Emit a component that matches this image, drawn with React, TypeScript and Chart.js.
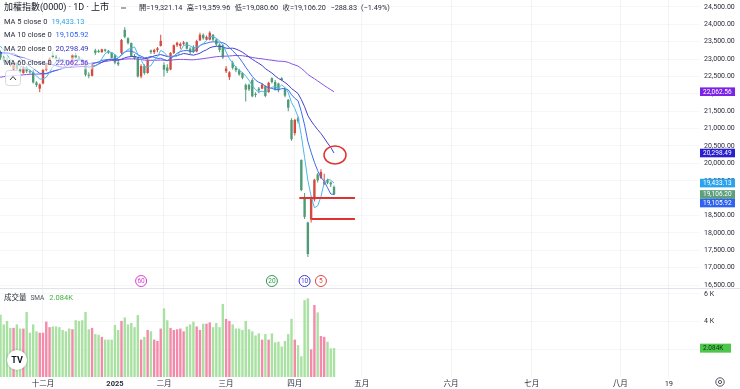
import React, { useEffect, useRef } from 'react';
import { Chart, registerables } from 'chart.js';

Chart.register(...registerables);

const FONT = "Roboto, 'Noto Sans CJK TC', 'Noto Sans', sans-serif";

// ---------- data (daily bars, 2024-11-12 … 2025-04-21) ----------
const opens = [
  23350, 23200, 23050, 22950, 22920, 22700, 22880, 22720, 22600, 22760,
  22650, 22620, 22330, 22150, 22300, 22690, 22850, 23100, 23060, 23010,
  22940, 22910, 22900, 22860, 23120, 23040, 22980, 22900, 22550, 22520,
  23250, 23240, 23200, 23280, 23240, 23190, 23110, 22900, 23180, 23840,
  23600, 23460, 23080, 23020, 22500, 22800, 22600, 23250, 23200, 23260,
  23380, 22830, 22760, 22700, 23180, 23400, 23380, 23440, 23480, 23300,
  23350, 23220, 23540, 23700, 23560, 23560, 23700, 23560, 23420, 23400,
  22650, 22480, 22900, 22750, 22680, 22600, 22260, 22260, 22400, 22000,
  22150, 22150, 22220, 22050, 22450, 22340, 22300, 22450, 22150, 21830,
  21250, 20870, 21300, 20100, 19030, 18300, 18380, 18960, 19680, 19580,
  19400, 19520, 19450, 19321.14,
];
const highs = [
  23400, 23250, 23100, 23050, 22960, 22900, 22900, 22760, 22800, 22800,
  22700, 22680, 22360, 22300, 22720, 22880, 23050, 23220, 23120, 23050,
  23000, 22960, 22950, 23150, 23180, 23080, 23020, 22920, 22620, 22920,
  23300, 23280, 23300, 23300, 23260, 23200, 23150, 23000, 23580, 23920,
  23630, 23480, 23150, 23060, 22850, 22850, 23000, 23280, 23300, 23350,
  23700, 22900, 22850, 23200, 23420, 23500, 23480, 23520, 23500, 23340,
  23400, 23560, 23760, 23740, 23680, 23800, 23720, 23600, 23460, 23420,
  22800, 22650, 22950, 22800, 22720, 22620, 22300, 22300, 22450, 22050,
  22200, 22300, 22250, 22350, 22480, 22400, 22320, 22480, 22180, 21850,
  21300, 21280, 21350, 20110, 19150, 18320, 19050, 19560, 19720, 19830,
  19700, 19560, 19480, 19359.96,
];
const lows = [
  23150, 22980, 22900, 22880, 22780, 22680, 22700, 22600, 22580, 22600,
  22580, 22300, 22200, 22050, 22280, 22650, 22820, 23020, 22980, 22900,
  22880, 22850, 22820, 22840, 23000, 22950, 22850, 22500, 22450, 22500,
  23120, 23180, 23180, 23200, 23150, 23020, 22850, 22800, 23150, 23600,
  23420, 23060, 22980, 22470, 22450, 22550, 22580, 23150, 23150, 23200,
  23360, 22500, 22600, 22680, 23150, 23350, 23300, 23400, 23280, 23150,
  23180, 23200, 23520, 23560, 23540, 23540, 23520, 23380, 23200, 23000,
  22600, 22400, 22700, 22620, 22520, 22420, 21780, 22080, 21900, 21900,
  22020, 22130, 21900, 22030, 22300, 22100, 22050, 22380, 21900, 21500,
  20650, 20800, 21150, 19200, 18400, 17306, 18300, 18900, 19450, 19550,
  19380, 19400, 19320, 19080.6,
];
const closes = [
  23200, 23050, 22950, 22920, 22820, 22880, 22720, 22640, 22760, 22650,
  22620, 22330, 22250, 22270, 22690, 22850, 23020, 23060, 23010, 22940,
  22910, 22880, 22860, 23120, 23040, 22980, 22900, 22550, 22520, 22880,
  23180, 23200, 23280, 23240, 23190, 23035, 22900, 22850, 23550, 23640,
  23460, 23080, 23020, 22500, 22800, 22600, 22960, 23200, 23260, 23310,
  23525, 22694, 22660, 23180, 23400, 23470, 23440, 23480, 23300, 23200,
  23220, 23520, 23700, 23600, 23640, 23760, 23560, 23420, 23260, 23050,
  22730, 22620, 22750, 22680, 22560, 22460, 22120, 22130, 21930, 21968,
  22097, 22270, 21940, 22320, 22340, 22130, 22100, 22400, 21950, 21602,
  20695, 21250, 21211.65, 19232.35, 18459.95, 17391.76, 19000.16, 19528.77, 19512.86, 19755.21,
  19468.43, 19440.78, 19395.03, 19106.2,
];
// closes before the visible window (needed by the moving averages)
const priorCloses = [
  21600, 21900, 22250, 22300, 22300, 22230, 22420, 22110, 22150, 22180, 22260, 22000, 22270,
  22280, 22090, 21090, 21320, 21440, 21150, 21420, 21400, 21850, 21760, 21630, 21840, 21950,
  21980, 22080, 22240, 22420, 22630, 22570, 22230,
  22290, 22160, 22570, 22560, 22640, 22900, 23030, 23060, 22840, 23140, 23490, 23450, 23350,
  23250, 23060, 23350, 23220, 23030, 22960,
  22820, 22780, 22950, 23220, 23520, 23550, 23530,
];
// volume in thousands
const volumesK = [
  4.2, 4.5, 3.8, 4.05, 3.55, 3.55, 3.8, 3.5, 3.5, 4.7,
  3.2, 3.8, 3.3, 3.2, 3.2, 4.0, 3.6, 3.65, 3.65, 3.6,
  3.4, 3.3, 3.5, 3.45, 4.1, 4.05, 4.1, 4.7, 3.45, 3.55,
  3.1, 3.05, 2.9, 2.7, 2.7, 2.7, 3.75, 3.4, 4.05, 4.3,
  3.8, 3.9, 3.6, 4.48, 2.7, 2.9, 3.4, 3.3, 2.7, 2.6,
  3.5, 4.96, 4.1, 3.55, 3.4, 3.45, 3.5, 3.3, 3.65, 3.8,
  4.0, 3.65, 3.4, 3.85, 3.85, 3.95, 3.6, 3.9, 3.6, 5.27,
  4.2, 4.05, 3.8, 3.5, 3.5, 3.4, 4.05, 3.45, 3.3, 3.0,
  3.15, 2.7, 3.1, 2.7, 3.15, 2.5, 2.55, 2.2, 2.6, 3.1,
  4.2, 2.7, 2.3, 1.5, 5.55, 5.68, 2.0, 5.2, 4.67, 2.96,
  2.9, 2.55, 2.07, 2.084,
];

const maPeriods = [5, 10, 20, 60];
const maNames = ['MA 5 close 0', 'MA 10 close 0', 'MA 20 close 0', 'MA 60 close 0'];
const maLastValues = [19433.13, 19105.92, 20298.49, 22062.56];
const maLineColors = ['#4cb6ec', '#3a6cf0', '#4340d0', '#8650e4'];
const maTextColors = ['#2aa2e6', '#2d5ff0', '#3434c4', '#7435e2'];
const maBadgeColors = ['#2aa3ee', '#2e62ef', '#2a1fd0', '#7b24e8'];
const markerColors = ['#e0453f', '#3a3ad2', '#2f9a4f', '#d93fd2'];

const priceTicks = [16500, 17000, 17500, 18000, 18500, 19000, 19500, 20000, 20500, 21000,
  21500, 22000, 22500, 23000, 23500, 24000, 24500];
const volumeTicks = [2, 4, 6];
const xTickIdx = [14, 36, 51, 70, 91, 111.5, 138.8, 163.5, 190.5, 205.4];
const xTickLabels = ['十二月', '2025', '二月', '三月', '四月', '五月', '六月', '七月', '八月', '19'];

const titleText = '加權指數(0000) · 1D · 上市';
const ohlcNames = ['開', '高', '低', '收'];
const volumeTitle = '成交量';
const volumeSmaLabel = 'SMA';
const volumeLastK = 2.084;

// drawn annotations (price levels, circle)
const levelValues = [19000, 18400];
const levelFromIdx = [92.4, 96.2];
const levelToIdx = [109.4, 109.4];
const circleIdx = 103.3;
const circleValue = 20240;

// ---------- scale extents ----------
const priceMin = 16414;
const priceMax = 24701;
const volMax = 6.43;
const xMin = 0.85;
const xMax = 214.92;

const UP = '#d44a40';
const DOWN = '#4e9b75';
const VOL_UP = '#f38aaa';
const VOL_DOWN = '#a8e1a1';
const TXT = '#2a2e39';

const fmt2 = (v: number) =>
  v.toLocaleString('en-US', { minimumFractionDigits: 2, maximumFractionDigits: 2 });

function movingAverage(period: number) {
  const all = priorCloses.concat(closes);
  const off = priorCloses.length;
  return closes.map((_, i) => {
    let s = 0;
    for (let k = 0; k < period; k++) s += all[off + i - k];
    return { x: i, y: s / period };
  });
}

function text(ctx: CanvasRenderingContext2D, s: string, x: number, y: number, color: string,
  size: number, weight = 'normal', align: CanvasTextAlign = 'left') {
  ctx.font = `${weight} ${size}px ${FONT}`;
  ctx.fillStyle = color;
  ctx.textAlign = align;
  ctx.textBaseline = 'middle';
  ctx.fillText(s, x, y);
  return ctx.measureText(s).width;
}

const overlayPlugin = {
  id: 'tvOverlay',
  afterDatasetsDraw(chart: any) {
    const { ctx, scales: { x, y } } = chart;
    ctx.save();
    ctx.beginPath();
    ctx.rect(x.left, y.top, x.right - x.left, y.bottom - y.top);
    ctx.clip();
    ctx.strokeStyle = '#e0322e';
    ctx.lineWidth = 2;
    levelValues.forEach((lv, i) => {
      const py = Math.round(y.getPixelForValue(lv));
      ctx.beginPath();
      ctx.moveTo(x.getPixelForValue(levelFromIdx[i]), py);
      ctx.lineTo(x.getPixelForValue(levelToIdx[i]), py);
      ctx.stroke();
    });
    ctx.lineWidth = 1.5;
    ctx.beginPath();
    ctx.ellipse(x.getPixelForValue(circleIdx), y.getPixelForValue(circleValue), 11, 9, 0, 0, Math.PI * 2);
    ctx.stroke();
    ctx.restore();
  },
  afterDraw(chart: any) {
    const { ctx, scales: { x, y, yv } } = chart;
    const W = chart.width;
    const last = closes.length - 1;
    ctx.save();

    // pane separator
    ctx.strokeStyle = '#e0e3eb';
    ctx.lineWidth = 1;
    const sy = Math.round(y.bottom) + 0.5;
    ctx.beginPath();
    ctx.moveTo(0, sy);
    ctx.lineTo(W, sy);
    ctx.stroke();

    // MA window markers
    maPeriods.forEach((p, i) => {
      const cx = x.getPixelForValue(last - (p - 1));
      const cy = y.bottom - 7;
      ctx.beginPath();
      ctx.arc(cx, cy, 5.5, 0, Math.PI * 2);
      ctx.fillStyle = '#fff';
      ctx.fill();
      ctx.strokeStyle = markerColors[i];
      ctx.lineWidth = 1;
      ctx.stroke();
      text(ctx, String(p), cx, cy + 0.5, markerColors[i], 6.5, 'normal', 'center');
    });

    // price badges
    const badges = [
      ...maLastValues.map((v, i) => ({ v, label: fmt2(v), bg: maBadgeColors[i] })),
      { v: closes[last], label: fmt2(closes[last]), bg: closes[last] >= opens[last] ? '#d9534a' : '#5e9f7d' },
    ].sort((a, b) => b.v - a.v);
    const BH = 8.6;
    let prevY = -Infinity;
    badges.forEach((b) => {
      let cy = y.getPixelForValue(b.v);
      if (cy < prevY + BH) cy = prevY + BH;
      prevY = cy;
      ctx.fillStyle = b.bg;
      ctx.fillRect(x.right, cy - BH / 2, 35, BH);
      text(ctx, b.label, x.right + 3, cy + 0.3, '#ffffff', 6.5);
    });

    // volume badge
    const vy = yv.getPixelForValue(volumeLastK);
    ctx.fillStyle = '#4cc74c';
    ctx.fillRect(x.right, vy - 4.5, 31, 9);
    text(ctx, `${volumeLastK.toFixed(3)}K`, x.right + 3, vy + 0.3, '#10300f', 6.5);

    // title row
    text(ctx, titleText, 4, 8, '#131722', 9);
    ctx.strokeStyle = '#8a8e99';
    ctx.lineWidth = 1.5;
    ctx.beginPath();
    ctx.moveTo(121, 8);
    ctx.lineTo(126, 8);
    ctx.stroke();
    const vals = [opens[last], highs[last], lows[last], closes[last]];
    let tx = 139;
    ohlcNames.forEach((n, i) => {
      tx += text(ctx, `${n}=${fmt2(vals[i])}`, tx, 8, TXT, 7.3) + 4.5;
    });
    const chg = closes[last] - closes[last - 1];
    const pct = (chg / closes[last - 1]) * 100;
    const sign = chg < 0 ? '−' : '+';
    tx += text(ctx, `${sign}${fmt2(Math.abs(chg))}`, tx, 8, TXT, 7.3) + 4;
    text(ctx, `(${sign}${Math.abs(pct).toFixed(2)}%)`, tx, 8, TXT, 7.3);

    // MA legend rows
    maNames.forEach((n, i) => {
      const ry = 21.7 + i * 13.9;
      ctx.font = `normal 7.5px ${FONT}`;
      const w1 = ctx.measureText(n).width;
      const w2 = ctx.measureText(fmt2(maLastValues[i])).width;
      ctx.fillStyle = 'rgba(255,255,255,0.6)';
      ctx.fillRect(2, ry - 6, w1 + w2 + 10, 12);
      text(ctx, n, 4, ry, TXT, 7.5);
      text(ctx, fmt2(maLastValues[i]), 4 + w1 + 4, ry, maTextColors[i], 7.5);
    });

    // collapse button
    ctx.fillStyle = 'rgba(255,255,255,0.8)';
    ctx.strokeStyle = '#d6d8de';
    ctx.lineWidth = 1;
    ctx.beginPath();
    ctx.roundRect(5.5, 70.5, 15, 15, 3);
    ctx.fill();
    ctx.stroke();
    ctx.strokeStyle = '#333';
    ctx.beginPath();
    ctx.moveTo(10, 80);
    ctx.lineTo(13, 76.5);
    ctx.lineTo(16, 80);
    ctx.stroke();

    // volume legend
    let vx = 4;
    vx += text(ctx, volumeTitle, vx, 298, TXT, 7.5) + 4;
    vx += text(ctx, volumeSmaLabel, vx, 298, '#50535e', 6.5) + 5;
    text(ctx, `${volumeLastK.toFixed(3)}K`, vx, 298, '#43b043', 7.5);

    // logo
    ctx.save();
    ctx.shadowColor = 'rgba(0,0,0,0.25)';
    ctx.shadowBlur = 3;
    ctx.beginPath();
    ctx.arc(17, 360, 10, 0, Math.PI * 2);
    ctx.fillStyle = '#fff';
    ctx.fill();
    ctx.restore();
    text(ctx, 'TV', 17, 360.5, '#131722', 9, 'bold', 'center');

    // settings icon
    ctx.strokeStyle = '#50535e';
    ctx.lineWidth = 1;
    ctx.beginPath();
    ctx.arc(720, 382, 4.2, 0, Math.PI * 2);
    ctx.stroke();
    ctx.beginPath();
    ctx.arc(720, 382, 1.6, 0, Math.PI * 2);
    ctx.stroke();

    ctx.restore();
  },
};

export default function App() {
  const ref = useRef<HTMLCanvasElement>(null);

  useEffect(() => {
    const canvas = ref.current;
    if (!canvas) return;
    const isUp = closes.map((c, i) => c >= opens[i]);
    const candleColors = isUp.map((u) => (u ? UP : DOWN));
    const volColors = isUp.map((u) => (u ? VOL_UP : VOL_DOWN));

    const wickData = lows.map((l, i) => ({ x: i, y: [l, highs[i]] }));
    const bodyData = opens.map((o, i) => ({ x: i, y: [Math.min(o, closes[i]), Math.max(o, closes[i])] }));
    const volData = volumesK.map((v, i) => ({ x: i, y: v }));

    const maDatasets = maPeriods.map((p, i) => ({
      type: 'line' as const,
      label: maNames[i],
      data: movingAverage(p),
      yAxisID: 'y',
      xAxisID: 'x',
      borderColor: maLineColors[i],
      borderWidth: 1,
      pointRadius: 0,
      tension: 0,
      order: 0,
    }));

    const chart = new Chart(canvas, {
      type: 'bar',
      data: {
        datasets: [
          ...maDatasets,
          {
            type: 'bar', label: 'body', data: bodyData as any, yAxisID: 'y', xAxisID: 'x',
            backgroundColor: candleColors, barThickness: 2.4, grouped: false, minBarLength: 1,
            inflateAmount: 0, order: 2,
          },
          {
            type: 'bar', label: 'wick', data: wickData as any, yAxisID: 'y', xAxisID: 'x',
            backgroundColor: candleColors, barThickness: 1, grouped: false, inflateAmount: 0, order: 3,
          },
          {
            type: 'bar', label: 'volume', data: volData as any, yAxisID: 'yv', xAxisID: 'x',
            backgroundColor: volColors, barThickness: 2.4, grouped: false, inflateAmount: 0, order: 5,
          },
        ] as any,
      },
      options: {
        responsive: false,
        devicePixelRatio: 1,
        animation: false,
        layout: { padding: 0 },
        plugins: { legend: { display: false }, tooltip: { enabled: false } },
        scales: {
          x: {
            type: 'linear', min: xMin, max: xMax, bounds: 'data', offset: false,
            grid: { color: 'rgba(42,46,57,0.05)', drawTicks: false, offset: false },
            border: { display: false },
            afterBuildTicks: (s: any) => { s.ticks = xTickIdx.map((v) => ({ value: v })); },
            afterFit: (s: any) => { s.height = 12; s.paddingLeft = 0; s.paddingRight = 0; },
            ticks: {
              autoSkip: false, maxRotation: 0, padding: 3, color: TXT,
              font: (c: any) => ({ family: FONT, size: 7.5, weight: xTickLabels[c.index] === '2025' ? 'bold' : 'normal' }),
              callback: (_v: any, i: number) => xTickLabels[i],
            },
          },
          y: {
            type: 'linear', position: 'right', stack: 'panes', stackWeight: 288,
            min: priceMin, max: priceMax, bounds: 'data',
            grid: { color: 'rgba(42,46,57,0.04)', drawTicks: false },
            border: { display: false },
            afterBuildTicks: (s: any) => { s.ticks = priceTicks.map((v) => ({ value: v })); },
            afterFit: (s: any) => { s.width = 40; s.paddingTop = 0; s.paddingBottom = 0; },
            ticks: {
              autoSkip: false, padding: 4, color: TXT, font: { family: FONT, size: 7 },
              callback: (v: any) => fmt2(Number(v)),
            },
          },
          yv: {
            type: 'linear', position: 'right', stack: 'panes', stackWeight: 89,
            min: 0, max: volMax, bounds: 'data',
            grid: { color: 'rgba(42,46,57,0.04)', drawTicks: false },
            border: { display: false },
            afterBuildTicks: (s: any) => { s.ticks = volumeTicks.map((v) => ({ value: v })); },
            afterFit: (s: any) => { s.width = 40; s.paddingTop = 0; s.paddingBottom = 0; },
            ticks: {
              autoSkip: false, padding: 4, color: TXT, font: { family: FONT, size: 7 },
              callback: (v: any) => `${v} K`,
            },
          },
        } as any,
      },
      plugins: [overlayPlugin],
    });
    return () => chart.destroy();
  }, []);

  return (
    <div style={{ position: 'fixed', left: 0, top: 0, width: 740, height: 389, background: '#ffffff' }}>
      <canvas ref={ref} width={740} height={389} style={{ display: 'block', width: 740, height: 389 }} />
    </div>
  );
}
